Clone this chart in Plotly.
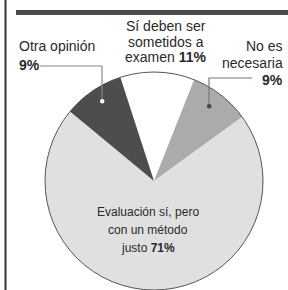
import plotly.graph_objects as go

W, H = 288, 290

labels = ["Sí deben ser sometidos a examen", "No es necesaria", "Evaluación sí, pero con un método justo", "Otra opinión"]
values = [11, 9, 71, 9]
colors = ["#ffffff", "#ababab", "#e0e0e0", "#4d4d4d"]

FONT = "Liberation Sans, Arial, sans-serif"
TXT = "#2a2a2a"

def px(x):
    return x / W

def py(y):
    return (H - y) / H

fig = go.Figure()
fig.add_trace(go.Pie(
    labels=labels, values=values, sort=False, direction="clockwise",
    rotation=-18, textinfo="none", hoverinfo="label+percent",
    marker=dict(colors=colors, line=dict(width=0)),
    domain=dict(x=[px(45), px(263)], y=[0, py(72)]),
    showlegend=False,
))

shapes = []
shapes.append(dict(type="circle", xref="paper", yref="paper",
                   x0=px(45), x1=px(263), y0=0, y1=py(72),
                   line=dict(color="#555555", width=1)))
shapes.append(dict(type="rect", xref="paper", yref="paper",
                   x0=px(16), x1=1, y0=py(15), y1=py(10),
                   fillcolor="#4a4a4a", line=dict(width=0)))
shapes.append(dict(type="line", xref="paper", yref="paper",
                   x0=px(5.5), x1=px(5.5), y0=0, y1=1,
                   line=dict(color="#333333", width=2)))
shapes.append(dict(type="path", xref="paper", yref="paper",
                   path=f"M {px(40)},{py(66)} L {px(102)},{py(66)} L {px(102)},{py(101)}",
                   line=dict(color="#888888", width=1.2)))
shapes.append(dict(type="path", xref="paper", yref="paper",
                   path=f"M {px(252)},{py(78)} L {px(209)},{py(78)} L {px(209)},{py(106)}",
                   line=dict(color="#777777", width=1.2)))
shapes.append(dict(type="circle", xref="paper", yref="paper",
                   x0=px(100), x1=px(104.5), y0=py(103.5), y1=py(99),
                   fillcolor="#ffffff", line=dict(width=0)))
shapes.append(dict(type="circle", xref="paper", yref="paper",
                   x0=px(207), x1=px(211.5), y0=py(108.5), y1=py(104),
                   fillcolor="#444444", line=dict(width=0)))

ann = []
def t(text, x, y, anchor="center", size=13):
    ann.append(dict(text=text, x=px(x), y=py(y), xref="paper", yref="paper",
                    xanchor=anchor, yanchor="middle", showarrow=False,
                    font=dict(family=FONT, size=size, color=TXT)))

t("Sí deben ser", 166, 26, size=14)
t("sometidos a", 166, 42, size=14)
t("examen <b>11%</b>", 166, 57, size=14)
t("Otra opinión", 17, 46, "left", size=14)
t("<b>9%</b>", 17, 65, "left", size=14)
t("No es", 285, 46, "right", size=14)
t("necesaria", 285, 63, "right", size=14)
t("<b>9%</b>", 285, 80, "right", size=14)
t("Evaluación sí, pero", 148, 212, size=12)
t("con un método", 148, 230, size=12)
t("justo <b>71%</b>", 148, 248, size=12)

fig.update_layout(width=W, height=H, margin=dict(l=0, r=0, t=0, b=0),
                  paper_bgcolor="white", plot_bgcolor="white",
                  shapes=shapes, annotations=ann)
fig.write_html("out.html", config={"displayModeBar": False})

with open("out.html", "r", encoding="utf-8") as f:
    html = f.read()
html = html.replace("<head>", "<head><style>html,body{margin:0;padding:0;overflow:hidden;}</style>", 1)
with open("out.html", "w", encoding="utf-8") as f:
    f.write(html)
